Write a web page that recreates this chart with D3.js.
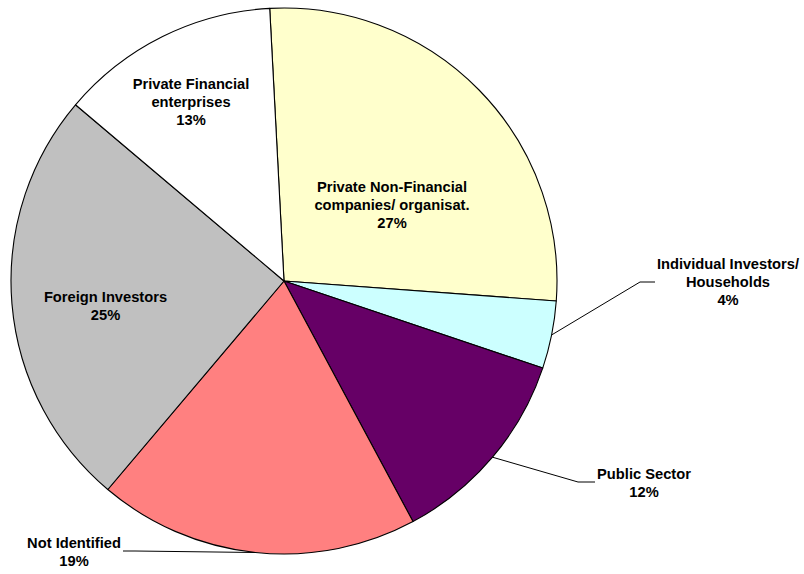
<!DOCTYPE html>
<html>
<head>
<meta charset="utf-8">
<script src="https://cdn.jsdelivr.net/npm/d3@7"></script>
<style>
  html, body { margin: 0; padding: 0; background: #ffffff; }
  svg { display: block; }
  text { font-family: "Liberation Sans", Arial, sans-serif; font-weight: bold; font-size: 14.7px; fill: #000; }
</style>
</head>
<body>
<div id="chart"></div>
<script>
// Ownership structure, shares in percent (clockwise from the top)
const categories = [
  "Private Non-Financial companies/ organisat.",
  "Individual Investors/ Households",
  "Public Sector",
  "Not Identified",
  "Foreign Investors",
  "Private Financial enterprises"
];
const shares = [27, 4, 12, 19, 25, 13];
const colors = ["#FFFFCC", "#CCFFFF", "#660066", "#FF8080", "#C0C0C0", "#FFFFFF"];

// Label text broken into lines, per slice
const labelLines = [
  ["Private Non-Financial", "companies/ organisat."],
  ["Individual Investors/", "Households"],
  ["Public Sector"],
  ["Not Identified"],
  ["Foreign Investors"],
  ["Private Financial", "enterprises"]
];

const width = 804, height = 574;
const cx = 284, cy = 281, radius = 273;
const startDeg = -3;
const lineH = 17.8;

// Label placement: x centre, first baseline, and optional leader elbow
const labelLayout = [
  { x: 392, y: 192 },
  { x: 728, y: 269, elbow: [640, 282], end: [655, 282] },
  { x: 644, y: 479, elbow: [578, 482], end: [595, 482] },
  { x: 74, y: 548, elbow: [135, 551], end: [123, 551] },
  { x: 105.5, y: 302 },
  { x: 191, y: 89 }
];

const svg = d3.select("#chart").append("svg")
  .attr("width", width).attr("height", height);

const data = categories.map((c, i) => ({ name: c, value: shares[i], color: colors[i], lines: labelLines[i], layout: labelLayout[i] }));

const pie = d3.pie()
  .value(d => d.value)
  .sort(null)
  .startAngle(startDeg * Math.PI / 180)
  .endAngle((startDeg + 360) * Math.PI / 180);

const arc = d3.arc().innerRadius(0).outerRadius(radius);

const arcs = pie(data);

const g = svg.append("g").attr("transform", `translate(${cx},${cy})`);

g.selectAll("path.slice")
  .data(arcs)
  .join("path")
  .attr("class", "slice")
  .attr("d", arc)
  .attr("fill", d => d.data.color)
  .attr("stroke", "#000")
  .attr("stroke-width", 1.1)
  .attr("stroke-linejoin", "round");

// Leader lines from the outer edge of the slice midpoint to the label
arcs.forEach(a => {
  const L = a.data.layout;
  if (!L.elbow) return;
  const mid = (a.startAngle + a.endAngle) / 2;
  const ex = cx + radius * Math.sin(mid);
  const ey = cy - radius * Math.cos(mid);
  svg.append("polyline")
    .attr("points", [[ex, ey], L.elbow, L.end].map(p => p.join(",")).join(" "))
    .attr("fill", "none")
    .attr("stroke", "#000")
    .attr("stroke-width", 1);
});

// Labels: name lines followed by the percentage
arcs.forEach(a => {
  const L = a.data.layout;
  const lines = a.data.lines.concat([d3.format("d")(a.data.value) + "%"]);
  const t = svg.append("text")
    .attr("text-anchor", "middle")
    .attr("x", L.x)
    .attr("y", L.y);
  lines.forEach((s, i) => {
    t.append("tspan")
      .attr("x", L.x)
      .attr("dy", i === 0 ? 0 : lineH)
      .text(s);
  });
});
</script>
</body>
</html>
